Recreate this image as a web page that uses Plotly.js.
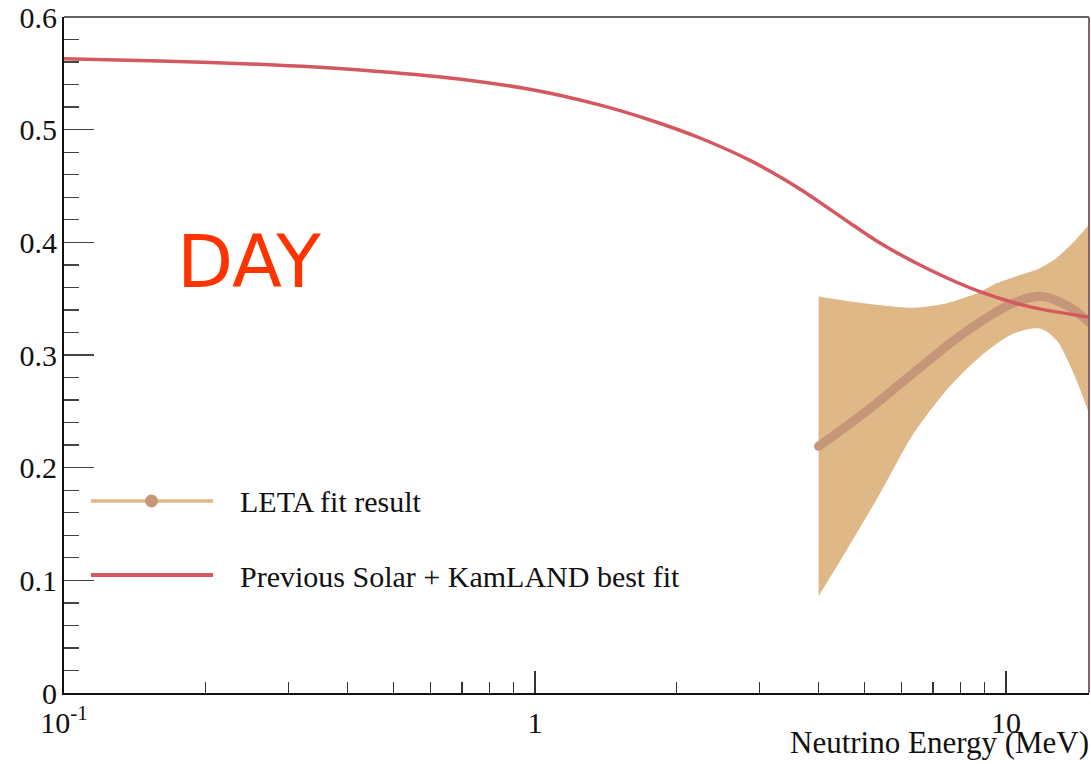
<!DOCTYPE html>
<html>
<head>
<meta charset="utf-8">
<script src="https://cdn.plot.ly/plotly-3.0.1.min.js"></script>
<style>html,body{margin:0;padding:0;background:#fff;}#chart{width:1091px;height:764px;}</style>
</head>
<body>
<div id="chart"></div>
<script>
// Previous Solar + KamLAND best fit (survival probability vs neutrino energy, MeV)
var redX = [0.1, 0.16, 0.26, 0.425, 0.69, 1.0, 1.37, 1.755, 2.24, 2.86, 3.65, 4.66, 5.4, 6.9, 8.8, 11.2, 15.1];
var redY = [0.563, 0.561, 0.558, 0.553, 0.545, 0.535, 0.522, 0.5086, 0.4926, 0.4727, 0.4474, 0.4172, 0.3994, 0.3754, 0.3562, 0.3429, 0.3334];

// LETA fit result: central curve
var centX = [4, 4.98, 6.36, 8.11, 10.37, 11.9, 13.6, 15.1];
var centY = [0.219, 0.248, 0.284, 0.319, 0.346, 0.352, 0.343, 0.328];

// LETA fit band: upper edge
var upX = [4, 4.98, 6.36, 7.48, 8.81, 9.55, 10.37, 11.8, 12.8, 13.9, 15.1];
var upY = [0.352, 0.346, 0.342, 0.346, 0.356, 0.3636, 0.369, 0.377, 0.386, 0.400, 0.417];

// LETA fit band: lower edge
var lowX = [4, 4.59, 5.4, 6.36, 7.48, 8.81, 10.37, 11.8, 12.8, 13.9, 15.1];
var lowY = [0.086, 0.127, 0.177, 0.230, 0.269, 0.2985, 0.319, 0.3235, 0.313, 0.284, 0.245];

// Axis ticks
var xTickVals = [0.1, 1, 10];
var xTickText = ['10<sup>-1</sup>', '1', '10'];
var xMinorVals = [0.2, 0.3, 0.4, 0.5, 0.6, 0.7, 0.8, 0.9, 2, 3, 4, 5, 6, 7, 8, 9];
var yTickVals = [0, 0.1, 0.2, 0.3, 0.4, 0.5, 0.6];
var yTickText = ['0', '0.1', '0.2', '0.3', '0.4', '0.5', '0.6'];

var legendNames = ['LETA fit result', 'Previous Solar + KamLAND best fit'];

var bandColor = '#deb887';
var centColor = '#c69679';
var redColor = '#d4585f';
var serif = 'Liberation Serif, Times New Roman, serif';

var traces = [
  {x: upX, y: upY, type: 'scatter', mode: 'lines', line: {width: 0, shape: 'spline', smoothing: 0.7, color: bandColor}, showlegend: false, hoverinfo: 'skip'},
  {x: lowX, y: lowY, type: 'scatter', mode: 'lines', fill: 'tonexty', fillcolor: bandColor, line: {width: 0, shape: 'spline', smoothing: 0.8, color: bandColor}, showlegend: false, hoverinfo: 'skip'},
  {x: centX, y: centY, type: 'scatter', mode: 'lines', line: {width: 9, shape: 'spline', color: centColor}, showlegend: false},
  {x: [centX[0]], y: [centY[0]], type: 'scatter', mode: 'markers', marker: {size: 9, color: centColor}, showlegend: false, hoverinfo: 'skip'},
  {x: redX, y: redY, type: 'scatter', mode: 'lines', line: {width: 3.5, shape: 'spline', smoothing: 0.8, color: redColor}, showlegend: false}
];

function px2paperX(p) { return (p - 64) / 1025; }
function px2paperY(p) { return (693 - p) / 676; }

var layout = {
  width: 1091, height: 764,
  margin: {l: 64, r: 2, t: 17, b: 71},
  paper_bgcolor: '#ffffff', plot_bgcolor: '#ffffff',
  showlegend: false,
  xaxis: {
    type: 'log', range: [-1, 1.1762],
    showgrid: false, zeroline: false,
    showline: true, linecolor: '#111', linewidth: 2,
    ticks: 'inside', ticklen: 22, tickwidth: 1.3, tickcolor: '#333',
    tickmode: 'array', tickvals: xTickVals, ticktext: xTickText,
    minor: {tickmode: 'array', tickvals: xMinorVals, ticks: 'inside', ticklen: 11, tickwidth: 1.3, tickcolor: '#333', showgrid: false},
    tickfont: {family: serif, size: 30, color: '#111'},
    ticklabelstandoff: 2
  },
  yaxis: {
    range: [0, 0.6],
    showgrid: false, zeroline: false,
    showline: true, linecolor: '#111', linewidth: 2,
    ticks: 'inside', ticklen: 30, tickwidth: 1.3, tickcolor: '#444',
    tickmode: 'array', tickvals: yTickVals, ticktext: yTickText,
    minor: {dtick: 0.02, ticks: 'inside', ticklen: 15, tickwidth: 1.3, tickcolor: '#444', showgrid: false},
    tickfont: {family: serif, size: 30, color: '#111'},
    ticklabelstandoff: -1
  },
  shapes: [
    {type: 'line', xref: 'paper', yref: 'paper', x0: 0, x1: 1, y0: 1, y1: 1, line: {color: '#666', width: 2}},
    {type: 'line', xref: 'paper', yref: 'paper', x0: 1, x1: 1, y0: 0, y1: 1, line: {color: '#8a6262', width: 2}},
    {type: 'line', xref: 'paper', yref: 'paper', x0: px2paperX(91), x1: px2paperX(213), y0: px2paperY(501), y1: px2paperY(501), line: {color: bandColor, width: 3.5}},
    {type: 'circle', xref: 'paper', yref: 'paper', x0: px2paperX(145), x1: px2paperX(158), y0: px2paperY(494.5), y1: px2paperY(507.5), fillcolor: centColor, line: {width: 0}},
    {type: 'line', xref: 'paper', yref: 'paper', x0: px2paperX(91), x1: px2paperX(213), y0: px2paperY(575), y1: px2paperY(575), line: {color: redColor, width: 4}}
  ],
  annotations: [
    {xref: 'paper', yref: 'paper', x: px2paperX(238), y: px2paperY(501), xanchor: 'left', yanchor: 'middle', showarrow: false, text: legendNames[0], font: {family: serif, size: 30, color: '#111'}},
    {xref: 'paper', yref: 'paper', x: px2paperX(238), y: px2paperY(576), xanchor: 'left', yanchor: 'middle', showarrow: false, text: legendNames[1], font: {family: serif, size: 30, color: '#111'}},
    {xref: 'paper', yref: 'paper', x: px2paperX(249), y: px2paperY(261), xanchor: 'center', yanchor: 'middle', showarrow: false, text: 'DAY', font: {family: 'DejaVu Sans, sans-serif', size: 73, color: '#ff3300'}},
    {xref: 'paper', yref: 'paper', x: px2paperX(1091), y: px2paperY(742), xanchor: 'right', yanchor: 'middle', showarrow: false, text: 'Neutrino Energy (MeV)', font: {family: serif, size: 31, color: '#111'}}
  ]
};

Plotly.newPlot('chart', traces, layout, {displayModeBar: false, staticPlot: true});
</script>
</body>
</html>
